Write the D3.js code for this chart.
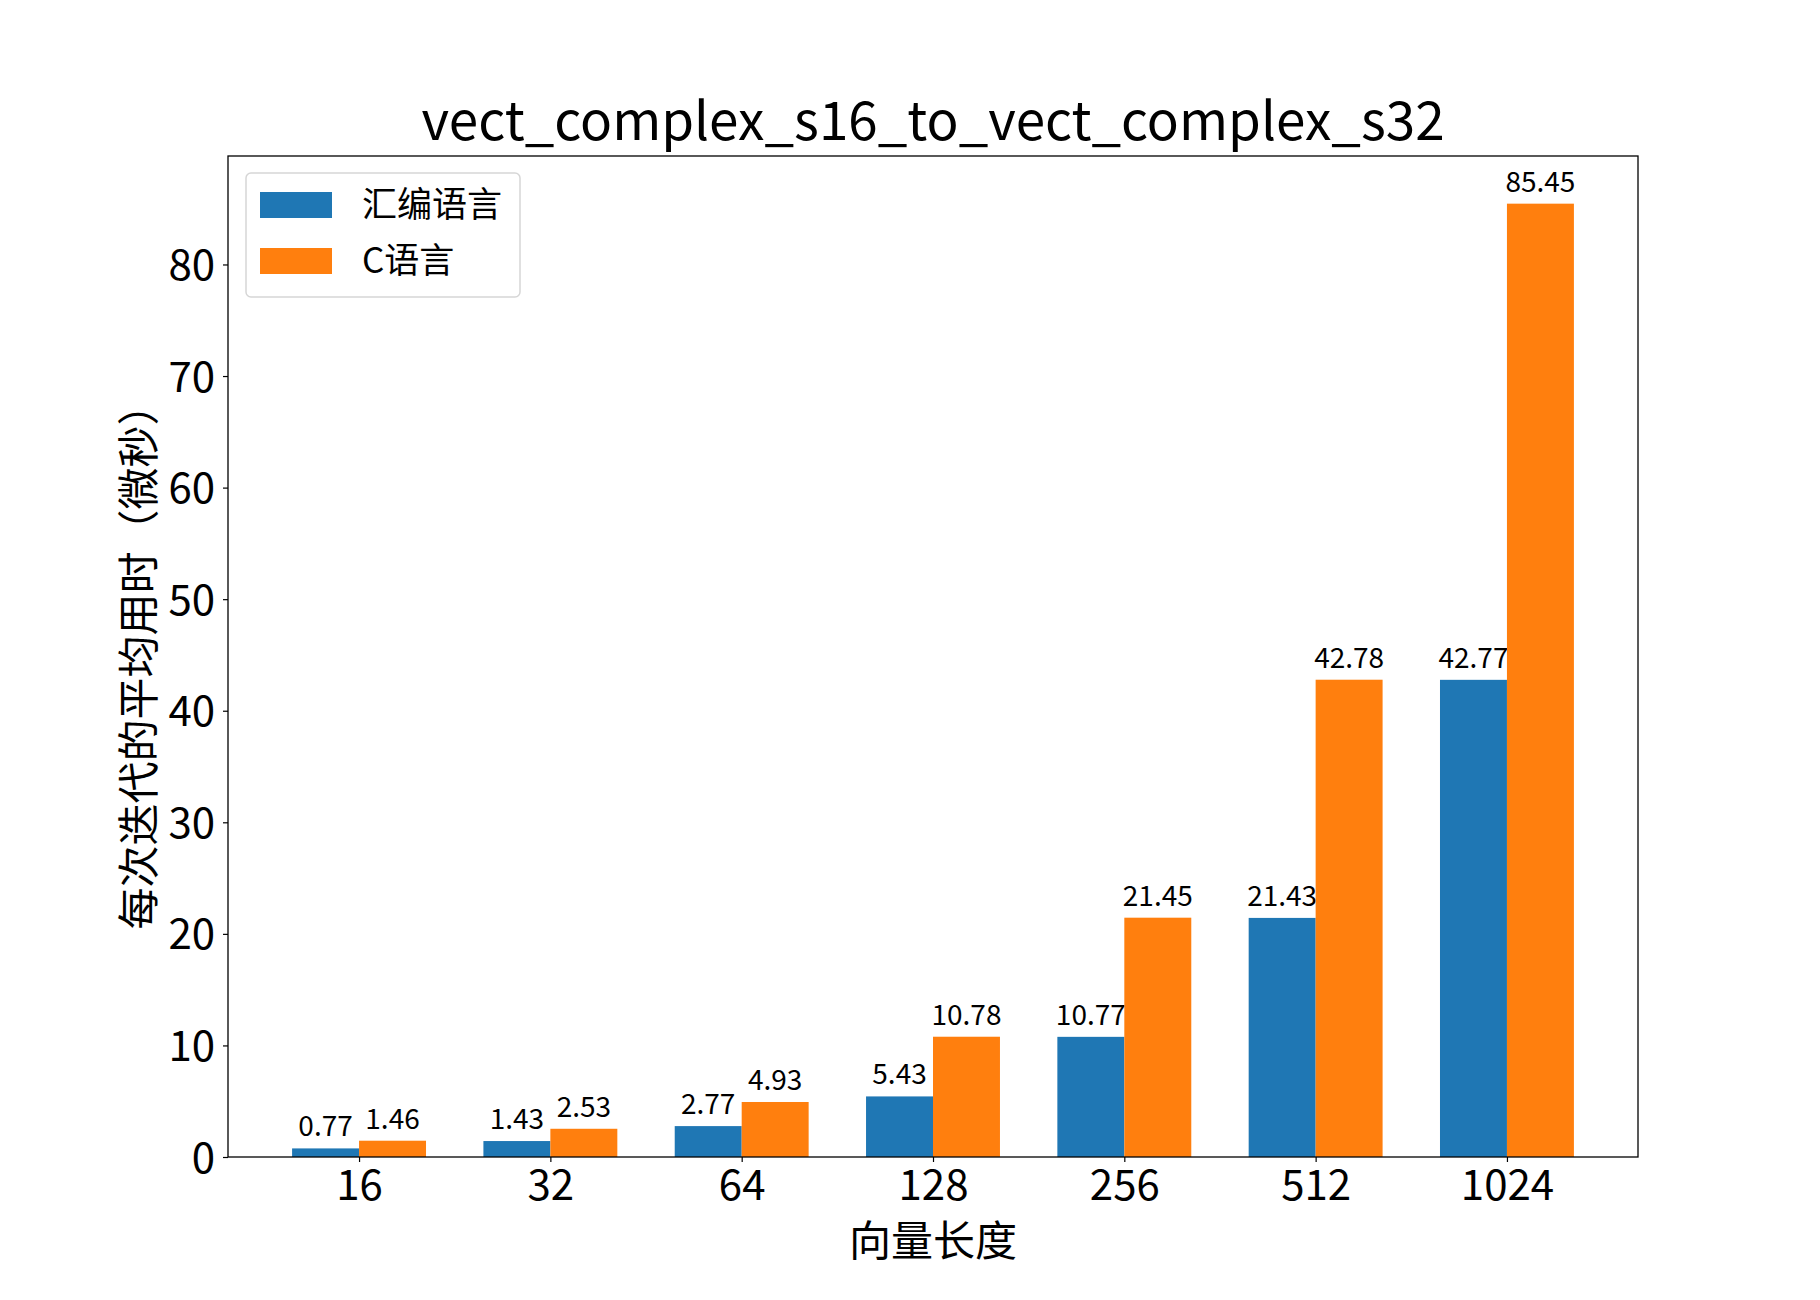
<!DOCTYPE html>
<html>
<head>
<meta charset="utf-8">
<script src="https://cdn.jsdelivr.net/npm/d3@7"></script>
<style>
  body { margin: 0; background: #fff; }
  text { font-family: "Noto Sans CJK SC", "Noto Sans", sans-serif; fill: #000; }
</style>
</head>
<body>
<div id="chart"></div>
<script>
// data
const categories = ['16', '32', '64', '128', '256', '512', '1024'];
const asmValues = [0.77, 1.43, 2.77, 5.43, 10.77, 21.43, 42.77];
const cValues = [1.46, 2.53, 4.93, 10.78, 21.45, 42.78, 85.45];
const seriesNames = ['汇编语言', 'C语言'];
const yTicks = [0, 10, 20, 30, 40, 50, 60, 70, 80];

const W = 1820, H = 1300;
const margin = { top: 156, right: 182, bottom: 143, left: 228 };
const colors = ['#1f77b4', '#ff7f0e'];
const barW = 0.35;

const svg = d3.select('#chart').append('svg')
  .attr('width', W)
  .attr('height', H);

// matplotlib style: numeric x positions with 5% margins
const x = d3.scaleLinear()
  .domain([-0.685, categories.length - 1 + 0.685])
  .range([margin.left, W - margin.right]);

const yMax = d3.max(cValues.concat(asmValues)) * 1.05;
const y = d3.scaleLinear()
  .domain([0, yMax])
  .range([H - margin.bottom, margin.top]);

const series = [asmValues, cValues];

series.forEach((vals, s) => {
  const off = s === 0 ? -barW / 2 : barW / 2;
  const g = svg.append('g');
  g.selectAll('rect')
    .data(vals)
    .enter()
    .append('rect')
    .attr('x', (d, i) => x(i + off - barW / 2))
    .attr('y', d => y(d))
    .attr('width', x(barW) - x(0))
    .attr('height', d => y(0) - y(d))
    .attr('fill', colors[s]);

  g.selectAll('text')
    .data(vals)
    .enter()
    .append('text')
    .attr('x', (d, i) => x(i + off))
    .attr('y', d => y(d) - 12)
    .attr('text-anchor', 'middle')
    .style('font-size', '28px')
    .text(d => d.toFixed(2));
});

// axes
const xAxis = d3.axisBottom(x)
  .tickValues(d3.range(categories.length))
  .tickFormat(i => categories[i])
  .tickSize(5)
  .tickPadding(6);

const yAxis = d3.axisLeft(y)
  .tickValues(yTicks)
  .tickSize(5)
  .tickPadding(8);

const gx = svg.append('g')
  .attr('transform', 'translate(0,' + (H - margin.bottom) + ')')
  .call(xAxis);
const gy = svg.append('g')
  .attr('transform', 'translate(' + margin.left + ',0)')
  .call(yAxis);

[gx, gy].forEach(g => {
  g.select('.domain').remove();
  g.selectAll('.tick line').attr('stroke', '#000').attr('stroke-width', 1.2);
  g.selectAll('.tick text').style('font-size', '42px').attr('fill', '#000');
});
gy.selectAll('.tick text').attr('dy', '0.36em');
gx.selectAll('.tick text').attr('dy', '0.76em');

// frame
svg.append('rect')
  .attr('x', margin.left)
  .attr('y', margin.top)
  .attr('width', W - margin.left - margin.right)
  .attr('height', H - margin.top - margin.bottom)
  .attr('fill', 'none')
  .attr('stroke', '#000')
  .attr('stroke-width', 1.3);

// title + axis labels
svg.append('text')
  .attr('x', (margin.left + W - margin.right) / 2)
  .attr('y', 140)
  .attr('text-anchor', 'middle')
  .style('font-size', '53px')
  .text('vect_complex_s16_to_vect_complex_s32');

svg.append('text')
  .attr('x', (margin.left + W - margin.right) / 2)
  .attr('y', 1256)
  .attr('text-anchor', 'middle')
  .style('font-size', '42px')
  .text('向量长度');

svg.append('text')
  .attr('transform', 'translate(154,' + ((margin.top + H - margin.bottom) / 2) + ') rotate(-90)')
  .attr('text-anchor', 'middle')
  .style('font-size', '42px')
  .text('每次迭代的平均用时（微秒）');

// legend
const legend = svg.append('g');
legend.append('rect')
  .attr('x', 246).attr('y', 173)
  .attr('width', 274).attr('height', 124)
  .attr('rx', 5)
  .attr('fill', 'rgba(255,255,255,0.8)')
  .attr('stroke', '#d6d6d6')
  .attr('stroke-width', 1.5);

seriesNames.forEach((name, i) => {
  const cy = 205 + i * 56;
  legend.append('rect')
    .attr('x', 260).attr('y', cy - 13)
    .attr('width', 72).attr('height', 26)
    .attr('fill', colors[i]);
  legend.append('text')
    .attr('x', 362).attr('y', cy)
    .attr('dy', '0.35em')
    .style('font-size', '35px')
    .text(name);
});
</script>
</body>
</html>
